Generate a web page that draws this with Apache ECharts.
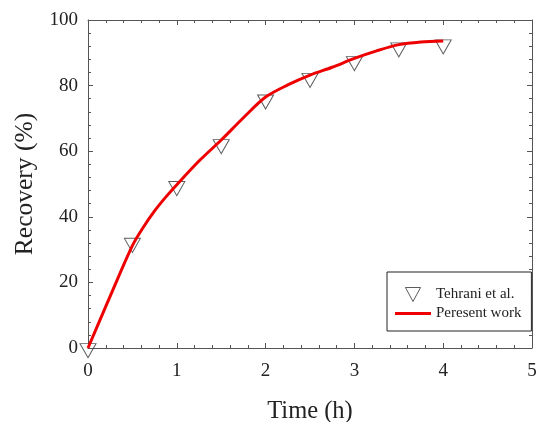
<!DOCTYPE html>
<html>
<head>
<meta charset="utf-8">
<script src="https://cdn.jsdelivr.net/npm/echarts@6/dist/echarts.min.js"></script>
<style>html,body{margin:0;padding:0;background:#fff;}#c{width:539px;height:422px;}</style>
</head>
<body>
<div id="c"></div>
<script>
// Experimental data (Tehrani et al.)
var expTime = [0, 0.5, 1, 1.5, 2, 2.5, 3, 3.5, 4];
var expRecovery = [-0.8, 31.3, 48.6, 61.4, 75.0, 81.6, 86.7, 90.9, 91.8];
// Model curve (present work)
var modelTime = [0, 0.25, 0.5, 0.625, 0.75, 0.875, 1, 1.25, 1.5, 1.75, 2, 2.25, 2.5, 2.75, 3, 3.25, 3.5, 3.75, 4];
var modelRecovery = [0, 15.8, 31.2, 36.9, 41.8, 46.0, 49.8, 57.0, 63.4, 70.2, 76.5, 80.2, 83.2, 85.6, 88.3, 90.6, 92.5, 93.3, 93.6];
var xTicks = [0, 1, 2, 3, 4, 5];
var yTicks = [0, 20, 40, 60, 80, 100];

var FONT = 'Liberation Serif';
var axisColor = '#555';

function pairs(xs, ys) { return xs.map(function (x, i) { return [x, ys[i]]; }); }

var chart = echarts.init(document.getElementById('c'), null, { renderer: 'canvas' });
var baseX = {
  type: 'value', min: xTicks[0], max: xTicks[xTicks.length - 1], interval: 1,
  axisLine: { show: true, onZero: false, lineStyle: { color: axisColor, width: 1 } },
  axisTick: { show: true, inside: true, length: 5, lineStyle: { color: axisColor } },
  minorTick: { show: true, splitNumber: 5, length: 3, lineStyle: { color: axisColor } },
  splitLine: { show: false }
};
var baseY = {
  type: 'value', min: yTicks[0], max: yTicks[yTicks.length - 1], interval: 20,
  axisLine: { show: true, onZero: false, lineStyle: { color: axisColor, width: 1 } },
  axisTick: { show: true, inside: true, length: 5, lineStyle: { color: axisColor } },
  minorTick: { show: true, splitNumber: 5, length: 3, lineStyle: { color: axisColor } },
  splitLine: { show: false }
};

chart.setOption({
  animation: false,
  backgroundColor: '#fff',
  grid: { left: 88, top: 20, right: 7, bottom: 74, containLabel: false, outerBoundsMode: 'none' },
  xAxis: [
    Object.assign({}, baseX, {
      position: 'bottom',
      name: 'Time (h)', nameLocation: 'middle', nameGap: 51,
      nameTextStyle: { fontFamily: FONT, fontSize: 24.5, color: '#222' },
      axisLabel: { fontFamily: FONT, fontSize: 19, color: '#222', margin: 14 }
    }),
    Object.assign({}, baseX, { position: 'top', axisLabel: { show: false } })
  ],
  yAxis: [
    Object.assign({}, baseY, {
      position: 'left',
      name: 'Recovery (%)', nameLocation: 'middle', nameGap: 50,
      nameTextStyle: { fontFamily: FONT, fontSize: 25.5, color: '#222' },
      axisLabel: { fontFamily: FONT, fontSize: 19, color: '#222', margin: 10 }
    }),
    Object.assign({}, baseY, { position: 'right', axisLabel: { show: false } })
  ],
  legend: {
    orient: 'vertical', left: 387, top: 272,
    padding: [15, 10, 10, 8],
    itemWidth: 36, itemHeight: 14, itemGap: 4,
    symbolKeepAspect: true,
    borderColor: '#222', borderWidth: 1, backgroundColor: '#fff',
    selectedMode: false,
    textStyle: { fontFamily: FONT, fontSize: 15, color: '#222' },
    data: [
      { name: 'Tehrani et al.', icon: 'path://M0,0 L14,0 L7,13 Z',
        itemStyle: { color: '#fff', borderColor: '#333', borderWidth: 1 } },
      { name: 'Peresent work', icon: 'path://M0,0 L36,0 L36,3 L0,3 Z',
        itemStyle: { color: '#ee0000', borderWidth: 0 } }
    ]
  },
  series: [
    {
      name: 'Tehrani et al.', type: 'scatter',
      data: pairs(expTime, expRecovery),
      symbol: 'triangle', symbolRotate: 180, symbolSize: [16, 14],
      itemStyle: { color: 'rgba(255,255,255,0)', borderColor: '#333', borderWidth: 1 },
      clip: false, z: 2
    },
    {
      name: 'Peresent work', type: 'line',
      data: pairs(modelTime, modelRecovery),
      smooth: 0.3, symbol: 'none', showSymbol: false,
      lineStyle: { color: '#ee0000', width: 3 },
      itemStyle: { color: '#ee0000' },
      z: 3
    }
  ]
});
</script>
</body>
</html>
